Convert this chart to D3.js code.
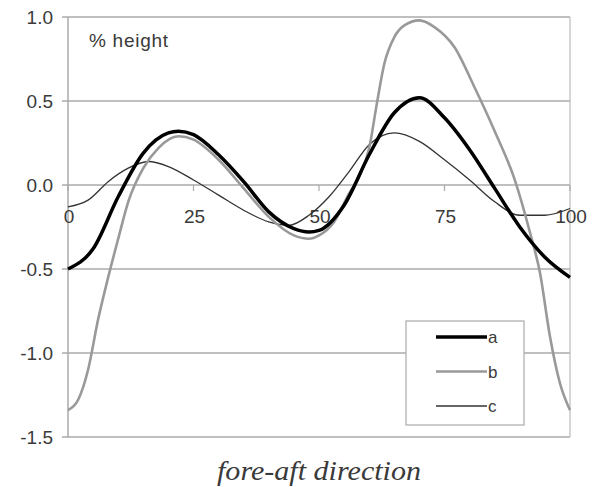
<!DOCTYPE html>
<html>
<head>
<meta charset="utf-8">
<script src="https://cdn.jsdelivr.net/npm/d3@7"></script>
<style>
  body { margin: 0; background: #fff; }
  svg text { font-family: Arial, "Liberation Sans", sans-serif; fill: #3a3a3a; }
  svg text.title { font-family: "Times New Roman", "Liberation Serif", serif; font-style: italic; }
</style>
</head>
<body>
<svg id="chart"></svg>
<script>
const yTicks = [1.0, 0.5, 0.0, -0.5, -1.0, -1.5];
const xTicks = [0, 25, 50, 75, 100];

const aX = [0, 5, 10, 15, 20, 22, 25, 30, 35, 40, 45, 48, 50, 55, 60, 65, 70, 75, 80, 85, 90, 95, 100];
const aY = [-0.50, -0.38, -0.07, 0.19, 0.31, 0.32, 0.30, 0.18, 0.02, -0.16, -0.26, -0.28, -0.27, -0.12, 0.18, 0.43, 0.52, 0.40, 0.21, -0.02, -0.25, -0.43, -0.55];

const bX = [0, 2, 4, 6, 8, 10, 12, 15, 18, 22, 25, 30, 35, 40, 45, 48, 50, 53, 56, 58, 60, 61.5, 63, 65, 67, 70, 73, 77, 81, 85, 89, 92, 94, 96, 98, 100];
const bY = [-1.34, -1.28, -1.10, -0.80, -0.55, -0.32, -0.10, 0.10, 0.22, 0.29, 0.27, 0.15, -0.02, -0.19, -0.30, -0.32, -0.30, -0.22, -0.05, 0.05, 0.22, 0.48, 0.72, 0.88, 0.95, 0.98, 0.94, 0.82, 0.58, 0.32, 0.03, -0.28, -0.52, -0.90, -1.18, -1.34];

const cX = [0, 4, 8, 12, 16, 20, 25, 30, 35, 40, 44, 48, 52, 56, 60, 65, 70, 75, 80, 85, 90, 95, 100];
const cY = [-0.13, -0.09, 0.02, 0.10, 0.14, 0.11, 0.03, -0.06, -0.15, -0.22, -0.24, -0.18, -0.07, 0.08, 0.24, 0.31, 0.26, 0.15, 0.03, -0.10, -0.18, -0.18, -0.14];

const seriesNames = ['a', 'b', 'c'];

const width = 595, height = 487;
const margin = {top: 17, right: 25, bottom: 50, left: 68};

const svg = d3.select('#chart')
  .attr('width', width)
  .attr('height', height);

const x = d3.scaleLinear().domain([0, 100]).range([margin.left, width - margin.right]);
const y = d3.scaleLinear().domain([-1.5, 1.0]).range([height - margin.bottom, margin.top]);

// grid lines
svg.append('g')
  .selectAll('line')
  .data(yTicks)
  .enter().append('line')
  .attr('x1', margin.left - 6)
  .attr('x2', x(100))
  .attr('y1', d => y(d))
  .attr('y2', d => y(d))
  .attr('stroke', '#aaa')
  .attr('stroke-width', 1.5);

// plot border: left axis and right edge
svg.append('line')
  .attr('x1', x(0)).attr('x2', x(0))
  .attr('y1', y(1.0)).attr('y2', y(-1.5))
  .attr('stroke', '#aaa').attr('stroke-width', 1.5);
svg.append('line')
  .attr('x1', x(100)).attr('x2', x(100))
  .attr('y1', y(1.0)).attr('y2', y(-1.5))
  .attr('stroke', '#bbb').attr('stroke-width', 1.2);

// y labels
svg.append('g')
  .selectAll('text')
  .data(yTicks)
  .enter().append('text')
  .attr('x', 53)
  .attr('y', d => y(d) + 7)
  .attr('text-anchor', 'end')
  .attr('font-size', 19)
  .text(d => d3.format('.1f')(d).replace('−', '-'));

// x ticks on the zero line
svg.append('g')
  .selectAll('line')
  .data(xTicks)
  .enter().append('line')
  .attr('x1', d => x(d)).attr('x2', d => x(d))
  .attr('y1', y(0)).attr('y2', y(0) + 6)
  .attr('stroke', '#aaa').attr('stroke-width', 1.2);

svg.append('g')
  .selectAll('text')
  .data(xTicks)
  .enter().append('text')
  .attr('x', d => x(d) + 1)
  .attr('y', y(0) + 38)
  .attr('text-anchor', 'middle')
  .attr('font-size', 19)
  .text(d => d);

const line = d3.line()
  .x(d => x(d[0]))
  .y(d => y(d[1]))
  .curve(d3.curveMonotoneX);

const styles = {
  a: {stroke: '#000', width: 3.5},
  b: {stroke: '#999', width: 2.6},
  c: {stroke: '#333', width: 1.3}
};

const series = [
  {name: 'c', pts: d3.zip(cX, cY)},
  {name: 'b', pts: d3.zip(bX, bY)},
  {name: 'a', pts: d3.zip(aX, aY)}
];

svg.append('g')
  .selectAll('path')
  .data(series)
  .enter().append('path')
  .attr('d', d => line(d.pts))
  .attr('fill', 'none')
  .attr('stroke', d => styles[d.name].stroke)
  .attr('stroke-width', d => styles[d.name].width)
  .attr('stroke-linejoin', 'round');

// legend
const legend = svg.append('g');
legend.append('rect')
  .attr('x', 406).attr('y', 321)
  .attr('width', 118).attr('height', 104)
  .attr('fill', '#fff')
  .attr('stroke', '#aaa').attr('stroke-width', 1.2);

const legendItem = legend.selectAll('g')
  .data(seriesNames)
  .enter().append('g');

legendItem.append('line')
  .attr('x1', 436).attr('x2', 487)
  .attr('y1', (d, i) => 337 + i * 34.5)
  .attr('y2', (d, i) => 337 + i * 34.5)
  .attr('stroke', d => styles[d].stroke)
  .attr('stroke-width', d => styles[d].width);

legendItem.append('text')
  .attr('x', 488)
  .attr('y', (d, i) => 337 + i * 34.5 + 6)
  .attr('font-size', 17)
  .text(d => d);

svg.append('text')
  .attr('x', 89)
  .attr('y', 47)
  .attr('font-size', 19)
  .attr('textLength', 79)
  .text('% height');

svg.append('text')
  .attr('class', 'title')
  .attr('x', 217)
  .attr('y', 480)
  .attr('font-size', 27)
  .attr('textLength', 204)
  .attr('lengthAdjust', 'spacingAndGlyphs')
  .text('fore-aft direction');
</script>
</body>
</html>
